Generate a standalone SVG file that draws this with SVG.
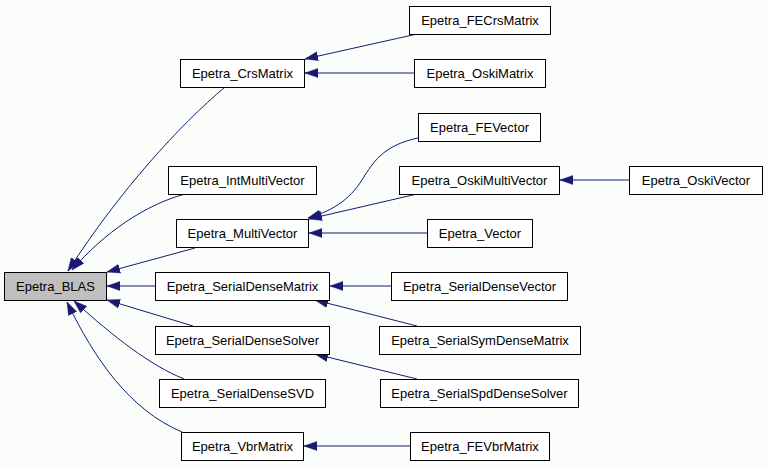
<svg xmlns="http://www.w3.org/2000/svg" width="768" height="467" viewBox="0 0 768 467">
<defs>
<style>
.node rect{fill:#ffffff;stroke:#000000;stroke-width:1}
.node.root rect{fill:#bfbfbf}
.node text{font-family:"Liberation Sans",Arial,sans-serif;font-size:13px;fill:#000000;text-anchor:middle}
.edge{fill:none;stroke:#191970;stroke-width:1;marker-end:url(#arr)}
</style>
<marker id="arr" markerUnits="userSpaceOnUse" markerWidth="14" markerHeight="11" refX="13" refY="5" orient="auto" viewBox="0 0 14 10">
<path d="M0,0.5 L13,5 L0,9.5 z" fill="#191970" stroke="#191970" stroke-width="0.5"/>
</marker>
</defs>
<rect x="0" y="0" width="768" height="467" fill="#fbfdfb"/>
<g id="connectors">
<path class="edge" d="M225,87 C180,125 120,190 68,271"/>
<path class="edge" d="M185,194 C145,205 105,232 72,270"/>
<path class="edge" d="M195,248 L107,272"/>
<path class="edge" d="M155,286 L107,286"/>
<path class="edge" d="M193,326 L107,300"/>
<path class="edge" d="M184,379 C150,365 115,338 74,301"/>
<path class="edge" d="M182,432 C130,410 95,360 67,302"/>
<path class="edge" d="M417,34 L305,59"/>
<path class="edge" d="M414,73 L305,73"/>
<path class="edge" d="M418,138 C385,145 375,160 365,175 C352,198 335,210 308,218"/>
<path class="edge" d="M417,194 L309,219"/>
<path class="edge" d="M427,233 L309,233"/>
<path class="edge" d="M629,180 L560,180"/>
<path class="edge" d="M391,286 L330,286"/>
<path class="edge" d="M417,326 L315,300"/>
<path class="edge" d="M417,379 L315,354"/>
<path class="edge" d="M410,446 L304,446"/>
</g>
<g id="Epetra_BLAS" class="node root"><rect x="4.5" y="272.5" width="102" height="28"/><text x="55.5" y="291">Epetra_BLAS</text></g>
<g id="Epetra_CrsMatrix" class="node"><rect x="180.5" y="59.5" width="124" height="28"/><text x="242.5" y="78">Epetra_CrsMatrix</text></g>
<g id="Epetra_IntMultiVector" class="node"><rect x="168.5" y="166.5" width="148" height="28"/><text x="242.5" y="185">Epetra_IntMultiVector</text></g>
<g id="Epetra_MultiVector" class="node"><rect x="176.5" y="219.5" width="132" height="28"/><text x="242.5" y="238">Epetra_MultiVector</text></g>
<g id="Epetra_SerialDenseMatrix" class="node"><rect x="155.5" y="272.5" width="174" height="28"/><text x="242.5" y="291">Epetra_SerialDenseMatrix</text></g>
<g id="Epetra_SerialDenseSolver" class="node"><rect x="155.5" y="326.5" width="174" height="28"/><text x="242.5" y="345">Epetra_SerialDenseSolver</text></g>
<g id="Epetra_SerialDenseSVD" class="node"><rect x="159.5" y="379.5" width="166" height="28"/><text x="242.5" y="398">Epetra_SerialDenseSVD</text></g>
<g id="Epetra_VbrMatrix" class="node"><rect x="181.5" y="432.5" width="122" height="28"/><text x="242.5" y="451">Epetra_VbrMatrix</text></g>
<g id="Epetra_FECrsMatrix" class="node"><rect x="409.5" y="6.5" width="141" height="28"/><text x="480" y="25">Epetra_FECrsMatrix</text></g>
<g id="Epetra_OskiMatrix" class="node"><rect x="414.5" y="59.5" width="131" height="28"/><text x="480" y="78">Epetra_OskiMatrix</text></g>
<g id="Epetra_FEVector" class="node"><rect x="418.5" y="113.5" width="122" height="28"/><text x="479.5" y="132">Epetra_FEVector</text></g>
<g id="Epetra_OskiMultiVector" class="node"><rect x="399.5" y="166.5" width="160" height="28"/><text x="479.5" y="185">Epetra_OskiMultiVector</text></g>
<g id="Epetra_OskiVector" class="node"><rect x="629.5" y="166.5" width="133" height="28"/><text x="696" y="185">Epetra_OskiVector</text></g>
<g id="Epetra_Vector" class="node"><rect x="427.5" y="219.5" width="105" height="28"/><text x="480" y="238">Epetra_Vector</text></g>
<g id="Epetra_SerialDenseVector" class="node"><rect x="391.5" y="272.5" width="176" height="28"/><text x="479.5" y="291">Epetra_SerialDenseVector</text></g>
<g id="Epetra_SerialSymDenseMatrix" class="node"><rect x="379.5" y="326.5" width="201" height="28"/><text x="480" y="345">Epetra_SerialSymDenseMatrix</text></g>
<g id="Epetra_SerialSpdDenseSolver" class="node"><rect x="380.5" y="379.5" width="198" height="28"/><text x="479.5" y="398">Epetra_SerialSpdDenseSolver</text></g>
<g id="Epetra_FEVbrMatrix" class="node"><rect x="410.5" y="432.5" width="139" height="28"/><text x="480" y="451">Epetra_FEVbrMatrix</text></g>
</svg>
